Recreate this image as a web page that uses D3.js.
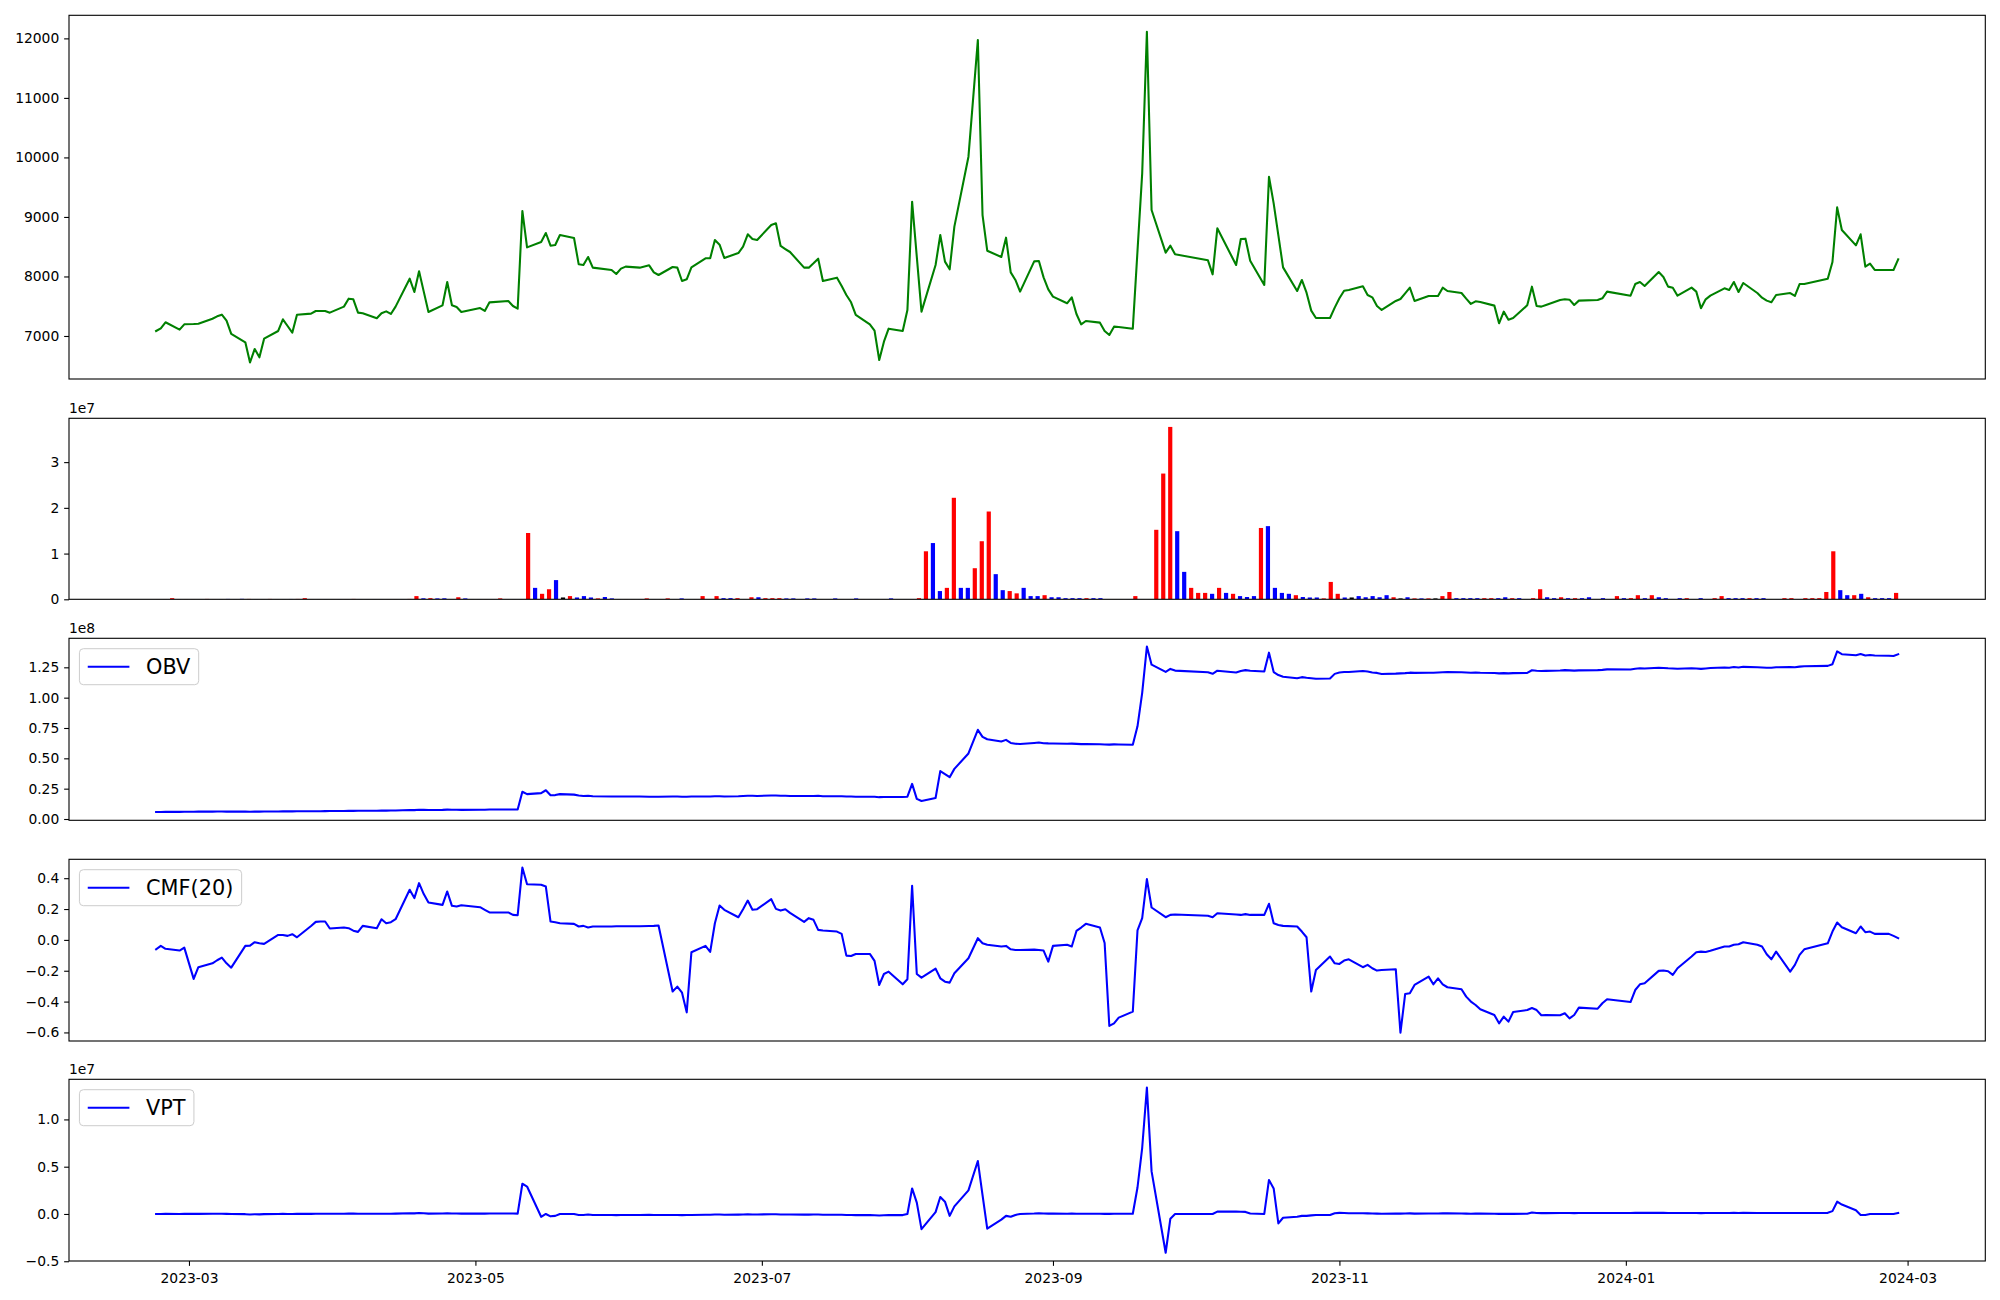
<!DOCTYPE html>
<html><head><meta charset="utf-8">
<script src="https://cdn.jsdelivr.net/npm/d3@7"></script>
<style>body{margin:0;background:#fff} text{font-family:"DejaVu Sans",sans-serif;fill:#000}</style>
</head><body><svg id="chart" width="2000" height="1300" xmlns="http://www.w3.org/2000/svg"></svg>
<script>
// ---------- DATA ----------
const tradingDays = {
  "2023-02":[22,23,24,27,28],
  "2023-03":[2,3,6,7,8,9,10,13,14,15,16,17,20,21,22,23,24,27,28,29,30,31],
  "2023-04":[3,4,5,6,7,10,11,12,13,14,17,18,19,20,21,24,25,26,27,28],
  "2023-05":[2,3,4,8,9,10,11,12,15,16,17,18,19,22,23,24,25,26,30,31],
  "2023-06":[1,2,5,7,8,9,12,13,14,15,16,19,20,21,22,23,26,27,28,29,30],
  "2023-07":[3,4,5,6,7,10,11,12,13,14,17,18,19,20,21,24,25,26,27,28,31],
  "2023-08":[1,2,3,4,7,8,9,10,11,14,16,17,18,21,22,23,24,25,28,29,30,31],
  "2023-09":[1,4,5,6,7,8,11,12,13,14,15,18,19,20,21,22,25,26,27],
  "2023-10":[4,5,6,10,11,12,13,16,17,18,19,20,23,24,25,26,27,30,31],
  "2023-11":[1,2,3,6,7,8,9,10,13,14,15,16,17,20,21,22,23,24,27,28,29,30],
  "2023-12":[1,4,5,6,7,8,11,12,13,14,15,18,19,20,21,22,26,27,28],
  "2024-01":[2,3,4,5,8,9,10,11,12,15,16,17,18,19,22,23,24,25,26,29,30,31],
  "2024-02":[1,2,5,6,7,8,13,14,15,16,19,20,21,22,23,26,27,28]
};

const price = [
  7084,7129,7230,7106,7196,
  7200,7205,7290,7330,7358,7258,7034,6894,6555,6782,6642,6955,7084,7280,7168,7056,7358,7375,7420,7420,7420,7392,
  7493,7627,7616,7392,7381,7297,7381,7414,7370,7493,7963,7739,8086,7745,7403,7515,7907,7515,7487,7403,
  7470,7420,7565,7588,7504,7459,9100,8489,8579,8730,8517,8529,8697,8646,8204,8193,8327,8148,8109,8041,
  8131,8165,8148,8187,8069,8025,8159,8148,7924,7952,8153,8305,8305,8613,8534,8310,8394,8501,8708,8629,8613,
  8865,8893,8512,8461,8411,8148,8148,8221,8299,7924,7980,7840,7689,7566,7353,7196,7090,6597,6905,7123,7084,
  7437,9256,8330,7409,8193,8697,8249,8120,8837,10012,11972,9032,8433,8327,8652,8069,7941,7745,8254,8260,7985,7784,
  7661,7549,7649,7370,7196,7252,7224,7084,7017,7157,7150,7123,8430,9732,12110,9117,8400,8517,8372,
  8271,8036,8809,8193,8629,8635,8265,7857,9676,9228,8691,8153,7756,7941,7728,7426,7302,7302,7476,
  7633,7761,7773,7834,7689,7649,7504,7437,7588,7621,7717,7812,7588,7672,7672,7672,7812,7756,7722,7627,7538,7582,
  7571,7510,7213,7409,7274,7302,7515,7829,7504,7493,7521,7605,7616,7610,7521,7594,7605,7633,7745,
  7677,7873,7907,7840,8075,7991,7829,7812,7677,7812,7745,7465,7616,7677,7801,7773,7907,7739,7890,7722,7644,7594,
  7566,7689,7722,7672,7873,7873,7963,8243,9161,8781,8523,8708,8165,8215,8109,8109,8109,8288
];

// volume in millions of shares
const volumeM = [
  0.05,0.06,0.25,0.05,0.06,
  0.05,0.04,0.08,0.06,0.05,0.08,0.06,0.1,0.08,0.06,0.05,0.08,0.06,0.05,0.07,0.08,0.25,0.06,0.05,0.05,0.04,0.05,
  0.06,0.08,0.06,0.06,0.05,0.06,0.05,0.06,0.05,0.08,0.7,0.22,0.25,0.2,0.22,0.06,0.45,0.2,0.05,0.06,
  0.05,0.04,0.2,0.05,0.06,0.05,14.5,2.5,1.2,2.2,4.2,0.4,0.7,0.4,0.7,0.4,0.2,0.5,0.2,0.05,
  0.05,0.06,0.05,0.2,0.06,0.05,0.2,0.06,0.2,0.05,0.06,0.7,0.06,0.7,0.25,0.25,0.25,0.05,0.45,0.45,0.25,
  0.25,0.25,0.2,0.2,0.05,0.2,0.2,0.05,0.04,0.2,0.05,0.04,0.2,0.05,0.04,0.05,0.05,0.2,0.05,0.04,0.05,
  0.25,10.5,12.3,1.8,2.5,22.2,2.5,2.5,6.8,12.7,19.2,5.5,2.0,1.8,1.3,2.5,0.7,0.7,0.9,0.45,0.45,0.25,
  0.25,0.25,0.25,0.25,0.25,0.04,0.04,0.04,0.05,0.7,0.05,0.05,15.2,27.5,37.7,14.9,6.0,2.5,1.4,
  1.4,1.2,2.5,1.4,1.2,0.7,0.5,0.7,15.6,16.0,2.5,1.4,1.2,0.9,0.5,0.4,0.4,0.2,3.8,
  1.2,0.4,0.4,0.7,0.45,0.7,0.45,0.9,0.45,0.2,0.45,0.2,0.2,0.2,0.2,0.7,1.6,0.25,0.25,0.25,0.25,0.25,
  0.25,0.25,0.45,0.25,0.25,0.05,0.25,2.2,0.45,0.25,0.45,0.25,0.25,0.25,0.45,0.05,0.25,0.05,0.7,
  0.25,0.25,0.9,0.25,0.9,0.45,0.25,0.05,0.25,0.25,0.05,0.25,0.05,0.25,0.7,0.25,0.25,0.25,0.25,0.25,0.25,0.05,
  0.05,0.25,0.25,0.05,0.25,0.25,0.25,1.6,10.5,2.0,0.9,0.9,1.2,0.45,0.25,0.25,0.25,1.4
];

// bar colour class per day: u = up (red), d = down (blue), n = unchanged (black)
const volumeDir = (
  "u u u d u " +
  "u u u u d d d d u d u u u d d u u u u d u d " +
  "u u d d d d u u d u u d u d d u u d d d " +
  "u d u u d d u d u u d n u d d d u d d d " +
  "u u d u d u u d d u u u u u d d u d u d u " +
  "u u d d d d d u d d u u d u d d u d d d d " +
  "u u d d u u d d u u u d d u u d d d u d d d " +
  "d d u d d d u d d u d d u u u d d u u " +
  "u d u d u d d d u d d d d u d d d u u " +
  "u d n d d d d d u n d u d u n u u d d d d u " +
  "u d d u d d u u d d u d u d d u d u u " +
  "d u u d u d d u d u d d u u u d d d u d d u " +
  "d u u d u u u u u d d u d u d d d u"
).trim().split(/\s+/);

// On-Balance Volume, in units of 1e8
const obv1e8 = [
  0.0575,0.058,0.059,0.059,0.060,
  0.060,0.061,0.061,0.062,0.062,0.061,0.061,0.061,0.060,0.061,0.061,0.062,0.062,0.063,0.063,0.063,0.064,0.064,0.064,0.064,0.065,0.066,
  0.066,0.067,0.067,0.068,0.068,0.068,0.069,0.069,0.070,0.070,0.074,0.073,0.076,0.075,0.074,0.075,0.077,0.076,0.076,0.075,
  0.076,0.076,0.078,0.079,0.078,0.078,0.225,0.205,0.213,0.237,0.196,0.197,0.205,0.201,0.193,0.190,0.192,0.187,0.185,0.185,
  0.186,0.186,0.185,0.184,0.184,0.184,0.185,0.185,0.184,0.184,0.185,0.186,0.186,0.188,0.187,0.186,0.188,0.190,0.192,0.191,0.190,
  0.193,0.194,0.192,0.191,0.190,0.189,0.189,0.190,0.191,0.188,0.188,0.187,0.186,0.185,0.184,0.184,0.183,0.180,0.181,0.182,0.182,
  0.184,0.289,0.166,0.148,0.173,0.395,0.370,0.345,0.413,0.540,0.735,0.677,0.657,0.639,0.652,0.627,0.620,0.618,0.627,0.630,0.625,0.623,
  0.622,0.620,0.621,0.619,0.617,0.617,0.616,0.614,0.613,0.615,0.614,0.612,0.764,1.040,1.421,1.272,1.212,1.237,1.223,
  1.209,1.197,1.222,1.208,1.220,1.227,1.222,1.215,1.371,1.211,1.186,1.172,1.160,1.169,1.164,1.160,1.156,1.158,1.196,
  1.208,1.212,1.212,1.219,1.215,1.208,1.204,1.195,1.198,1.200,1.202,1.206,1.204,1.205,1.205,1.207,1.209,1.211,1.209,1.207,1.205,1.207,
  1.205,1.203,1.200,1.202,1.200,1.202,1.204,1.226,1.222,1.219,1.221,1.224,1.227,1.225,1.223,1.225,1.227,1.229,1.233,
  1.232,1.238,1.242,1.240,1.247,1.245,1.242,1.241,1.238,1.242,1.240,1.237,1.241,1.244,1.249,1.247,1.252,1.249,1.254,1.251,1.249,1.247,
  1.246,1.250,1.253,1.251,1.256,1.259,1.262,1.276,1.381,1.358,1.350,1.360,1.347,1.351,1.348,1.346,1.344,1.358
];

// Chaikin Money Flow (20)
const cmf20 = [
  -0.061,-0.039,-0.058,-0.069,-0.050,
  -0.253,-0.177,-0.152,-0.132,-0.115,-0.152,-0.180,-0.039,-0.037,-0.015,-0.022,-0.026,0.032,0.032,0.026,0.037,0.017,0.090,0.117,0.119,0.119,0.074,
  0.080,0.076,0.060,0.052,0.091,0.076,0.134,0.108,0.115,0.134,0.325,0.271,0.368,0.297,0.242,0.227,0.314,0.221,0.216,0.225,
  0.212,0.195,0.178,0.178,0.162,0.160,0.469,0.361,0.357,0.346,0.119,0.115,0.108,0.104,0.087,0.091,0.080,0.087,0.087,0.088,
  0.088,0.088,0.089,0.090,0.091,0.093,-0.335,-0.303,-0.342,-0.470,-0.080,-0.039,-0.078,0.108,0.223,0.195,0.147,0.199,0.255,0.195,0.199,
  0.264,0.201,0.190,0.199,0.175,0.117,0.141,0.130,0.065,0.061,0.054,0.039,-0.102,-0.104,-0.091,-0.091,-0.136,-0.292,-0.221,-0.206,-0.288,
  -0.255,0.351,-0.221,-0.245,-0.186,-0.249,-0.271,-0.277,-0.216,-0.119,0.011,-0.022,-0.032,-0.043,-0.039,-0.061,-0.065,-0.065,-0.063,-0.065,-0.069,-0.141,
  -0.039,-0.032,-0.043,0.058,0.080,0.104,0.080,-0.020,-0.558,-0.541,-0.504,-0.465,0.061,0.141,0.394,0.210,0.147,0.162,0.165,
  0.156,0.147,0.173,0.165,0.162,0.167,0.162,0.162,0.234,0.108,0.097,0.091,0.087,0.054,0.017,-0.335,-0.195,-0.108,-0.152,
  -0.156,-0.134,-0.126,-0.177,-0.162,-0.184,-0.199,-0.195,-0.190,-0.602,-0.351,-0.346,-0.292,-0.238,-0.288,-0.249,-0.288,-0.307,-0.320,-0.368,-0.400,-0.422,
  -0.450,-0.487,-0.541,-0.498,-0.530,-0.468,-0.455,-0.442,-0.455,-0.489,-0.487,-0.489,-0.476,-0.509,-0.487,-0.439,-0.446,-0.411,-0.385,
  -0.403,-0.325,-0.288,-0.281,-0.201,-0.199,-0.203,-0.227,-0.184,-0.108,-0.080,-0.076,-0.078,-0.071,-0.043,-0.043,-0.032,-0.028,-0.015,-0.032,-0.043,-0.093,
  -0.126,-0.076,-0.206,-0.162,-0.097,-0.061,-0.022,0.054,0.113,0.082,0.043,0.087,0.050,0.054,0.039,0.039,0.026,0.011
];

// Volume Price Trend, in units of 1e7
const vpt1e7 = [
  0,0,0.001,0,0.001,
  0.001,0.001,0.002,0.002,0.002,0.001,-0.001,-0.002,-0.005,-0.003,-0.004,-0.002,-0.001,0.001,0,-0.001,0.001,0.001,0.002,0.002,0.002,0.002,
  0.003,0.004,0.004,0.002,0.002,0.002,0.002,0.003,0.003,0.004,0.008,0.006,0.010,0.007,0.004,0.005,0.008,0.005,0.005,0.004,
  0.004,0.004,0.005,0.005,0.005,0.004,0.32,0.29,-0.03,0.0,-0.025,-0.02,0.0,0.0,-0.01,-0.01,-0.005,-0.01,-0.01,-0.012,
  -0.011,-0.01,-0.01,-0.009,-0.01,-0.011,-0.01,-0.01,-0.012,-0.011,-0.01,-0.008,-0.008,-0.005,-0.006,-0.008,-0.007,-0.006,-0.004,-0.005,-0.005,
  -0.003,-0.003,-0.005,-0.005,-0.006,-0.007,-0.007,-0.006,-0.006,-0.008,-0.008,-0.009,-0.01,-0.011,-0.012,-0.012,-0.013,-0.016,-0.014,-0.012,-0.012,
  0.0,0.27,0.12,-0.16,0.02,0.18,0.13,-0.02,0.08,0.25,0.56,0.20,-0.155,-0.06,-0.02,-0.03,-0.01,0.0,0.005,0.008,0.005,0.004,
  0.004,0.003,0.004,0.003,0.002,0.002,0.002,0.001,0.001,0.002,0.002,0.002,0.28,0.70,1.337,0.45,-0.41,-0.05,0.0,
  0.0,0.0,0.025,0.025,0.024,0.022,0.005,0.0,0.36,0.27,-0.10,-0.04,-0.03,-0.02,-0.02,-0.015,-0.01,-0.01,0.008,
  0.012,0.01,0.008,0.008,0.006,0.005,0.004,0.003,0.004,0.004,0.005,0.006,0.004,0.005,0.005,0.005,0.006,0.006,0.005,0.004,0.003,0.004,
  0.004,0.003,0.001,0.002,0.001,0.001,0.003,0.015,0.01,0.009,0.009,0.01,0.01,0.01,0.009,0.01,0.01,0.01,0.011,
  0.011,0.012,0.012,0.012,0.013,0.012,0.011,0.011,0.01,0.011,0.01,0.009,0.01,0.01,0.011,0.011,0.012,0.011,0.012,0.011,0.01,0.01,
  0.01,0.01,0.01,0.01,0.011,0.011,0.012,0.03,0.13,0.10,0.04,-0.01,-0.01,0.0,0.0,0.0,0.0,0.01
];

const priceTicks = [7000, 8000, 9000, 10000, 11000, 12000];
const volumeTicks = [0, 1, 2, 3];           // x 1e7
const obvTicks = [0, 0.25, 0.5, 0.75, 1.0, 1.25]; // x 1e8
const cmfTicks = [-0.6, -0.4, -0.2, 0.0, 0.2, 0.4];
const vptTicks = [-0.5, 0.0, 0.5, 1.0];     // x 1e7
const dateTicks = ["2023-03-01","2023-05-01","2023-07-01","2023-09-01","2023-11-01","2024-01-01","2024-03-01"];

// ---------- DRAW ----------
const parse = d3.utcParse("%Y-%m-%d");
const dates = [];
for (const [ym, days] of Object.entries(tradingDays))
  for (const dd of days) dates.push(parse(`${ym}-${String(dd).padStart(2, "0")}`));
const n = dates.length;

const svg = d3.select("#chart");
const L = 69, R = 1985.3;
const panels = [[15.3, 379], [418.3, 599.3], [638.3, 820.3], [859.3, 1041], [1079.3, 1261]];
const FS = 13.89, TICK = 4.86;

const t0 = dates[0], t1 = dates[n - 1], span = t1 - t0;
const x = d3.scaleUtc().domain([new Date(+t0 - 0.05 * span), new Date(+t1 + 0.05 * span)]).range([L, R]);

const bw = 0.6;
const ext = (n - 1) + bw;
const xi = d3.scaleLinear().domain([-bw / 2 - 0.05 * ext, n - 1 + bw / 2 + 0.05 * ext]).range([L, R]);

function padDomain(vals) {
  const [a, b] = d3.extent(vals); const r = b - a;
  return [a - 0.05 * r, b + 0.05 * r];
}

const defs = svg.append("defs");
panels.forEach(([t, b], k) => {
  defs.append("clipPath").attr("id", "clip" + k).append("rect")
    .attr("x", L).attr("y", t).attr("width", R - L).attr("height", b - t);
});

function yAxis(y, ticks, fmt) {
  const ax = d3.axisLeft(y).tickValues(ticks).tickFormat(fmt).tickSize(TICK).tickPadding(4.86);
  const g = svg.append("g").attr("transform", `translate(${L},0)`).call(ax);
  g.select(".domain").remove();
  g.selectAll("line").attr("stroke", "#000").attr("stroke-width", 1.1);
  g.selectAll("text").attr("font-size", FS).attr("font-family", "DejaVu Sans").attr("fill", "#000");
  return g;
}
function frame(k) {
  const [t, b] = panels[k];
  svg.append("rect").attr("x", L).attr("y", t).attr("width", R - L).attr("height", b - t)
    .attr("fill", "none").attr("stroke", "#000").attr("stroke-width", 1.1);
}
function offsetText(k, s) {
  svg.append("text").attr("x", L).attr("y", panels[k][0] - 5).attr("font-size", FS).text(s);
}
function drawLine(k, vals, y, color) {
  const line = d3.line().x((d, i) => x(dates[i])).y(d => y(d));
  svg.append("path").attr("clip-path", `url(#clip${k})`).datum(vals)
    .attr("d", line).attr("fill", "none").attr("stroke", color)
    .attr("stroke-width", 2.08).attr("stroke-linejoin", "round").attr("stroke-linecap", "square");
}
function legend(k, label) {
  const f = 20.83, top = panels[k][0];
  const bx = L + 0.5 * f, by = top + 0.5 * f, h = 36;
  const g = svg.append("g");
  const rect = g.append("rect");
  const tx = bx + 0.4 * f + 2.0 * f + 0.8 * f;
  const txt = g.append("text").attr("x", tx).attr("y", by + h / 2).attr("dy", "0.36em")
    .attr("font-size", f).text(label);
  const tw = txt.node().getComputedTextLength();
  rect.attr("x", bx).attr("y", by).attr("width", 0.4 * f * 2 + 2.0 * f + 0.8 * f + tw).attr("height", h)
    .attr("rx", 4).attr("fill", "#fff").attr("fill-opacity", 0.8).attr("stroke", "#cccccc").attr("stroke-width", 1);
  g.append("line").attr("x1", bx + 0.4 * f).attr("x2", bx + 0.4 * f + 2.0 * f)
    .attr("y1", by + h / 2).attr("y2", by + h / 2).attr("stroke", "blue").attr("stroke-width", 2.08);
}

// Panel 0: price
{
  const y = d3.scaleLinear().domain(padDomain(price)).range([panels[0][1], panels[0][0]]);
  drawLine(0, price, y, "green");
  yAxis(y, priceTicks, d3.format("d"));
  frame(0);
}
// Panel 1: volume bars (by trading-day index)
{
  const vols = volumeM.map(v => v * 1e6);
  const y = d3.scaleLinear().domain([0, d3.max(vols) * 1.05]).range([panels[1][1], panels[1][0]]);
  const w = xi(bw) - xi(0);
  const colour = { u: "red", d: "blue", n: "black" };
  svg.append("g").attr("clip-path", "url(#clip1)").selectAll("rect").data(vols).join("rect")
    .attr("x", (d, i) => xi(i) - w / 2).attr("width", w)
    .attr("y", d => y(d)).attr("height", d => y(0) - y(d))
    .attr("fill", (d, i) => colour[volumeDir[i]] || "red");
  yAxis(y, volumeTicks.map(v => v * 1e7), v => d3.format("d")(v / 1e7));
  offsetText(1, "1e7");
  frame(1);
}
// Panel 2: OBV
{
  const vals = obv1e8.map(v => v * 1e8);
  const y = d3.scaleLinear().domain(padDomain(vals)).range([panels[2][1], panels[2][0]]);
  drawLine(2, vals, y, "blue");
  yAxis(y, obvTicks.map(v => v * 1e8), v => d3.format(".2f")(v / 1e8));
  offsetText(2, "1e8");
  frame(2);
  legend(2, "OBV");
}
// Panel 3: CMF
{
  const y = d3.scaleLinear().domain(padDomain(cmf20)).range([panels[3][1], panels[3][0]]);
  drawLine(3, cmf20, y, "blue");
  yAxis(y, cmfTicks, d3.format(".1f"));
  frame(3);
  legend(3, "CMF(20)");
}
// Panel 4: VPT
{
  const vals = vpt1e7.map(v => v * 1e7);
  const y = d3.scaleLinear().domain(padDomain(vals)).range([panels[4][1], panels[4][0]]);
  drawLine(4, vals, y, "blue");
  yAxis(y, vptTicks.map(v => v * 1e7), v => d3.format(".1f")(v / 1e7));
  offsetText(4, "1e7");
  frame(4);
  legend(4, "VPT");
  const ax = d3.axisBottom(x).tickValues(dateTicks.map(parse)).tickFormat(d3.utcFormat("%Y-%m"))
    .tickSize(TICK).tickPadding(4.86);
  const g = svg.append("g").attr("transform", `translate(0,${panels[4][1]})`).call(ax);
  g.select(".domain").remove();
  g.selectAll("line").attr("stroke", "#000").attr("stroke-width", 1.1);
  g.selectAll("text").attr("font-size", FS).attr("font-family", "DejaVu Sans").attr("fill", "#000").attr("dy", "0.85em");
}
</script>
</body></html>
